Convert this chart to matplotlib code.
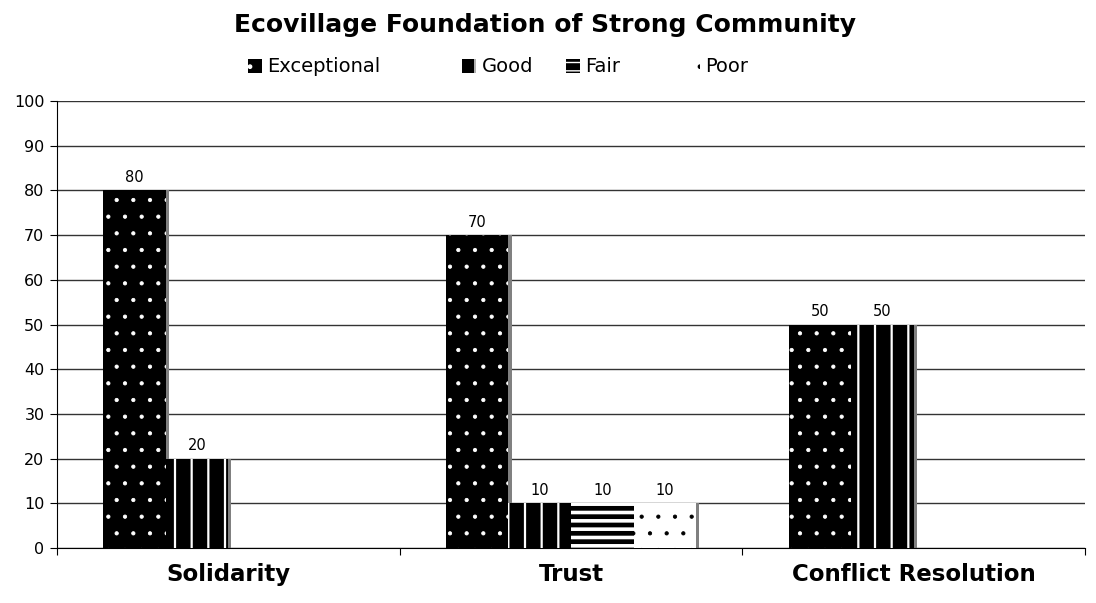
import matplotlib.pyplot as plt
import numpy as np
from matplotlib.patches import Patch

categories = ['Solidarity', 'Trust', 'Conflict Resolution']
series_names = ['Exceptional', 'Good', 'Fair', 'Poor']
exceptional = [80, 70, 50]
good = [20, 10, 50]
fair = [0, 10, 0]
poor = [0, 10, 0]
series = [exceptional, good, fair, poor]

# style per series: facecolor, hatch colour, hatch, hatch linewidth
styles = [('black', 'white', '.', 0.6),
          ('black', 'white', '|', 1.6),
          ('black', 'white', '--', 2.6),
          ('white', 'black', '.', 0.6)]

fig = plt.figure(figsize=(10.96, 6.03), dpi=100)
ax = fig.add_axes([0.052, 0.0912, 0.938, 0.7413])

x = np.arange(len(categories))
w = 0.1825
for i, vals in enumerate(series):
    fc, hc, h, hlw = styles[i]
    pos = x + (i - 1.5) * w
    # grey shadow at right side
    ax.bar(pos + 0.009, vals, w, color='#808080', zorder=2, linewidth=0)
    with plt.rc_context({'hatch.linewidth': hlw}):
        ax.bar(pos, vals, w, facecolor=fc, edgecolor=hc, hatch=h, linewidth=0, zorder=3)
    for p, v in zip(pos, vals):
        if v > 0:
            ax.text(p, v + 1.2, str(v), ha='center', va='bottom', fontsize=10.5)

ax.set_ylim(0, 100)
ax.set_xlim(-0.5, 2.5)
ax.set_yticks(range(0, 101, 10))
ax.yaxis.grid(True, color='#333333', linewidth=1)
ax.set_axisbelow(True)
ax.tick_params(axis='y', length=5, labelsize=11.5, pad=4)

ax.set_xticks([-0.5, 0.5, 1.5, 2.5])
ax.set_xticklabels([])
ax.tick_params(axis='x', which='major', length=5, direction='out')
ax.set_xticks(x, minor=True)
ax.set_xticklabels(categories, minor=True, fontsize=16.5, fontweight='bold')
ax.tick_params(axis='x', which='minor', length=0, pad=11)

for s in ['top', 'right']:
    ax.spines[s].set_visible(False)
ax.spines['left'].set_color('black')
ax.spines['bottom'].set_color('black')

fig.suptitle('Ecovillage Foundation of Strong Community', fontsize=18,
             fontweight='bold', x=0.497, y=0.978)

# legend entries placed one by one like the original
leg_x = [248, 462, 566, 686]
for (fc, hc, h, hlw), name, lx in zip(styles, series_names, leg_x):
    with plt.rc_context({'hatch.linewidth': hlw}):
        hnd = Patch(facecolor=fc, edgecolor=hc, hatch=h, linewidth=0)
    fig.legend([hnd], [name], loc='center left',
               bbox_to_anchor=(lx / 1096, 1 - 67 / 603), frameon=False,
               fontsize=14, handlelength=0.7, handleheight=0.7,
               handletextpad=0.3, borderpad=0, borderaxespad=0)

fig.savefig('out.png', dpi=100)
